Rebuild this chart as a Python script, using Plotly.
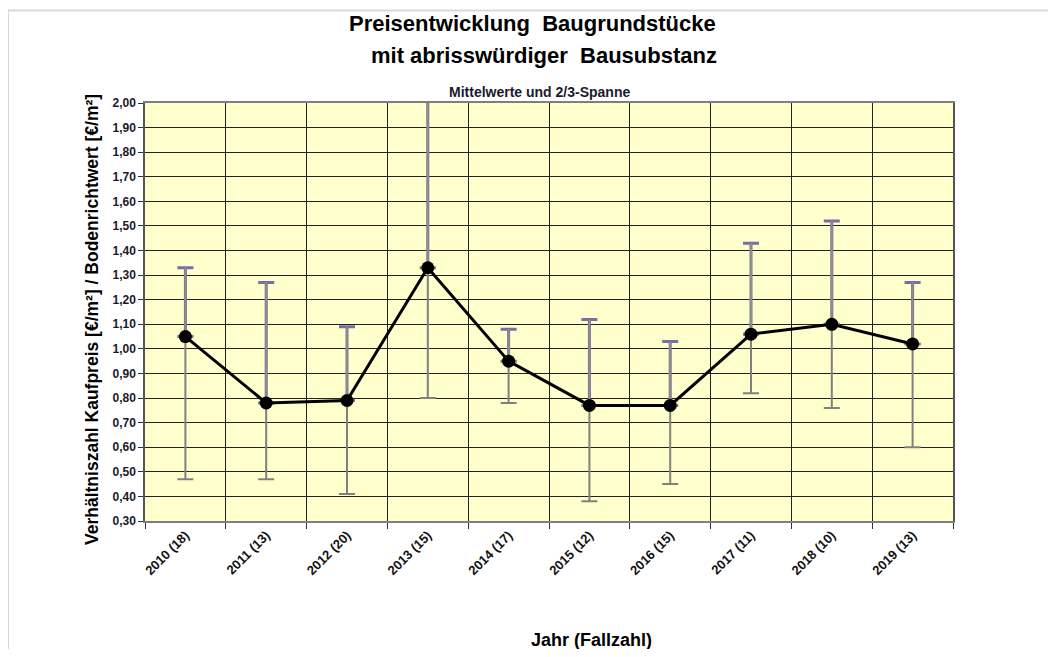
import plotly.graph_objects as go

categories = ["2010 (18)", "2011 (13)", "2012 (20)", "2013 (15)", "2014 (17)",
              "2015 (12)", "2016 (15)", "2017 (11)", "2018 (10)", "2019 (13)"]
mean_values = [1.05, 0.78, 0.79, 1.33, 0.95, 0.77, 0.77, 1.06, 1.10, 1.02]
upper_values = [1.33, 1.27, 1.09, 2.10, 1.08, 1.12, 1.03, 1.43, 1.52, 1.27]
lower_values = [0.47, 0.47, 0.41, 0.80, 0.78, 0.38, 0.45, 0.82, 0.76, 0.60]

up_err = [u - m for u, m in zip(upper_values, mean_values)]
lo_err = [m - l for m, l in zip(mean_values, lower_values)]
zeros = [0] * len(categories)

FONT = "Liberation Sans, Arial, sans-serif"
OFF = 8  # page body margin offset
W, H = 1056 - 2 * OFF, 657 - 2 * OFF
# target plot area in page pixels: x 145..953, y 103..521
L = 145 - OFF
T = 103 - OFF
PW, PH = 808, 418
R = W - L - PW
B = H - T - PH


def px_x(x):
    return (x - OFF - L) / PW


def px_y(y):
    return (T + PH - (y - OFF)) / PH


fig = go.Figure()

# upper caps (purple)
fig.add_trace(go.Scatter(
    x=categories, y=mean_values, mode="markers",
    marker=dict(size=1, opacity=0), hoverinfo="skip", showlegend=False,
    error_y=dict(type="data", symmetric=False, array=up_err, arrayminus=zeros,
                 color="#7a6ca6", thickness=3, width=8)))
# upper stems (grey) on top
fig.add_trace(go.Scatter(
    x=categories, y=mean_values, mode="markers",
    marker=dict(size=1, opacity=0), hoverinfo="skip", showlegend=False,
    error_y=dict(type="data", symmetric=False, array=up_err, arrayminus=zeros,
                 color="#8c8c8c", thickness=2, width=0)))
# lower bars (grey)
fig.add_trace(go.Scatter(
    x=categories, y=mean_values, mode="markers",
    marker=dict(size=1, opacity=0), hoverinfo="skip", showlegend=False,
    error_y=dict(type="data", symmetric=False, array=zeros, arrayminus=lo_err,
                 color="#808080", thickness=2, width=8)))
# mean line
fig.add_trace(go.Scatter(
    x=categories, y=mean_values, mode="lines+markers",
    line=dict(color="black", width=3),
    marker=dict(color="black", size=13), showlegend=False))

annotations = [
    dict(text="<b>Preisentwicklung  Baugrundstücke</b>", x=px_x(532), y=px_y(24),
         font=dict(size=22, color="black", family=FONT)),
    dict(text="<b>mit abrisswürdiger  Bausubstanz</b>", x=px_x(544), y=px_y(55),
         font=dict(size=22, color="black", family=FONT)),
    dict(text="<b>Mittelwerte und 2/3-Spanne</b>", x=px_x(539), y=px_y(92),
         font=dict(size=14, color="#1a1a2e", family=FONT)),
    dict(text="<b>Verhältniszahl Kaufpreis [€/m²] / Bodenrichtwert [€/m²]</b>",
         x=px_x(92), y=px_y(320), textangle=-90,
         font=dict(size=17.5, color="black", family=FONT)),
    dict(text="<b>Jahr (Fallzahl)</b>", x=px_x(591), y=px_y(640),
         font=dict(size=18, color="black", family=FONT)),
]
for a in annotations:
    a.update(xref="paper", yref="paper", showarrow=False, xanchor="center", yanchor="middle")

frame_style = dict(color="#d9d9d9", width=2)
shapes = [
    # top frame line
    dict(type="line", xref="paper", yref="paper",
         x0=px_x(7), x1=px_x(1056), y0=px_y(10.5), y1=px_y(10.5), line=frame_style),
    # left frame line
    dict(type="line", xref="paper", yref="paper",
         x0=px_x(8), x1=px_x(8), y0=px_y(10.5), y1=px_y(700), line=frame_style),
]

fig.update_layout(
    width=W, height=H,
    margin=dict(l=L, r=R, t=T, b=B),
    paper_bgcolor="white",
    plot_bgcolor="#ffffcc",
    separators=",.",
    font=dict(family=FONT, color="black"),
    annotations=annotations,
    shapes=shapes,
    xaxis=dict(
        type="category", tickson="boundaries",
        showgrid=True, gridcolor="#222222", gridwidth=1.3,
        ticks="outside", ticklen=6, tickcolor="#333333", tickwidth=1.3,
        tickangle=-45,
        tickfont=dict(size=13, color="#111111", family=FONT, weight="bold"),
        showline=True, linecolor="#7f7f7f", linewidth=1.5, mirror=True,
        range=[-0.5, len(categories) - 0.5], fixedrange=True,
    ),
    yaxis=dict(
        range=[0.30, 2.00], dtick=0.1, tick0=0.3, tickformat=".2f",
        showgrid=True, gridcolor="#222222", gridwidth=1.3,
        ticks="outside", ticklen=5, tickcolor="#333333", tickwidth=1.3,
        tickfont=dict(size=12, color="#1a1a2e", family=FONT, weight="bold"),
        showline=True, linecolor="#555555", linewidth=1.5, mirror=True,
        zeroline=False, fixedrange=True,
    ),
)

fig.write_html("out.html")
